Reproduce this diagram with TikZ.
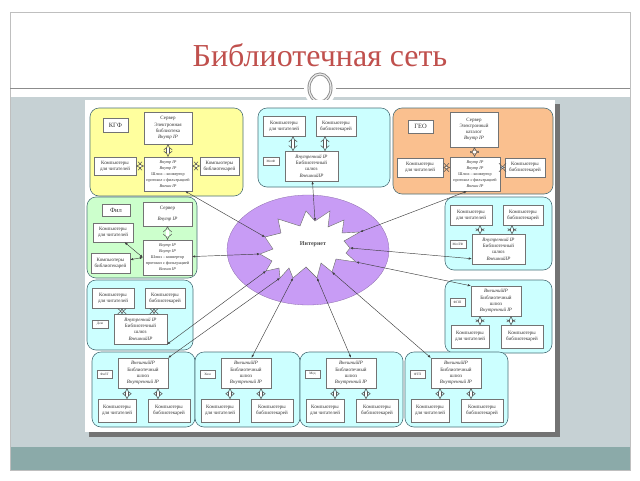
\documentclass[tikz,border=0pt]{standalone}
\usepackage{fontspec}
\setmainfont{Liberation Serif}
\usepackage{xcolor}
\definecolor{mauvang}{HTML}{FFFF9E}
\definecolor{maucam}{HTML}{FAC08F}
\definecolor{mauluc}{HTML}{CCFFCC}
\definecolor{maulam}{HTML}{CCFFFF}
\definecolor{mautim}{HTML}{C89CF5}
\definecolor{maubien}{HTML}{4B7079}
\definecolor{mautieude}{HTML}{C0504D}
\definecolor{maunen}{HTML}{C6D1D4}
\definecolor{mauday}{HTML}{8BAAA9}
\def\maydoc{Компьютеры\\для читателей}
\def\maythu{Компьютеры\\библиотекарей}
\usepackage{tikz}
\usetikzlibrary{arrows.meta,calc}

\begin{document}
\begin{tikzpicture}[x=1pt,y=-1pt]
		\tikzset{
			khoi/.style={draw=maubien,line width=0.6pt,rounded corners=9pt},
			hop/.style={draw=black!55,fill=white,line width=0.4pt,inner sep=0pt,align=center,
				font=\fontsize{5}{6.2}\selectfont,text=black!80},
			nhan/.style={hop,font=\fontsize{6.5}{7}\selectfont},
			nhannho/.style={hop,font=\fontsize{3.4}{4}\selectfont},
			mui/.style={draw=black!65,double=white,double distance=2.6pt,line width=0.55pt,
				arrows={Implies[length=2.6pt]-Implies[length=2.6pt]}},
			noi/.style={draw=black!75,line width=0.45pt,arrows={Latex[length=3pt,width=2.4pt]-Latex[length=3pt,width=2.4pt]}},
			pics/khoitren/.style n args={3}{code={
				\path[khoi,fill=maulam] (0,0) rectangle (#2,#3);
				\node[hop,minimum width=42pt,minimum height=20pt] (-rd) at (26,18) {\maydoc};
				\node[hop,minimum width=40pt,minimum height=20pt] (-tv) at (78,18) {\maythu};
				\node[hop,minimum width=53pt,minimum height=30pt] (-gw) at (53.5,#3-21) {\textit{Внутренний IP}\\Библиотечный\\шлюз\\\textit{ВнешнийIP}};
				\node[nhannho,minimum width=16pt,minimum height=8pt] (-tag) at (13,#3-26) {#1};
				\draw[mui] ([xshift=9pt]-rd.south) -- ++(0,#3-64);
				\draw[mui] ([xshift=-11pt]-tv.south) -- ++(0,#3-64);
			}},
			pics/khoiduoi/.style n args={3}{code={
				\path[khoi,fill=maulam] (0,0) rectangle (#2,#3);
				\node[hop,minimum width=50pt,minimum height=30pt] (-gw) at (51,21) {\textit{ВнешнийIP}\\Библиотечный\\шлюз\\\textit{Внутренний IP}};
				\node[nhannho,minimum width=15pt,minimum height=8pt] (-tag) at (12.5,22) {#1};
				\node[hop,minimum width=38pt,minimum height=23pt] (-rd) at (25,#3-16.5) {\maydoc};
				\node[hop,minimum width=42pt,minimum height=23pt] (-tv) at (77,#3-16.5) {\maythu};
				\draw[mui] ([xshift=-16pt]-gw.south) -- ++(0,#3-64);
				\draw[mui] ([xshift=15pt]-gw.south) -- ++(0,#3-64);
			}}
		}
		\useasboundingbox (0,0) rectangle (640,480);
		%%% Nen trang chieu
		\fill[white] (0,0) rectangle (640,480);
		\fill[maunen] (10,97) rectangle (630,447);
		\fill[mauday] (10,447) rectangle (630,470);
		\draw[black!25,line width=0.6pt] (10,12) rectangle (630,470);
		\draw[black!45,line width=0.6pt] (10,88) -- (630,88);
		\path[fill=white] (320,88) ellipse [x radius=16pt,y radius=19pt];
		\draw[black!45,double=black!8,double distance=1.2pt,line width=0.9pt] (320,88) ellipse [x radius=11pt,y radius=14pt];
		\node[anchor=base,font=\fontsize{32}{36}\selectfont,text=mautieude] (title) at (320,66) {Библиотечная сеть};
		%%% Bang so do
		\fill[black!55] (89,104) rectangle (560,437);
		\fill[white] (85,100) rectangle (555,432);
		%%% Khoi KGF
		\path[khoi,fill=mauvang] (90,108) rectangle (243,196);
		\node[nhan,minimum width=25pt,minimum height=14pt] (kgf-tag) at (115.5,125) {КГФ};
		\node[hop,minimum width=48pt,minimum height=32pt] (kgf-sv) at (168,128) {Сервер\\Электронная\\библиотека\\\textit{Внутр IP}};
		\node[hop,minimum width=48pt,minimum height=34pt,font=\fontsize{4.2}{6}\selectfont] (kgf-gw) at (168,174) {\textit{Внутр IP}\\\textit{Внутр IP}\\Шлюз – конвертор\\протокол с фильтрацией\\\textit{Внешн IP}};
		\node[hop,minimum width=42pt,minimum height=18pt] (kgf-rd) at (115,166) {\maydoc};
		\node[hop,minimum width=39pt,minimum height=18pt] (kgf-tv) at (219.5,166) {\maythu};
		\draw[mui] (kgf-sv) -- (kgf-gw);
		\draw[mui] (kgf-rd) -- (kgf-rd -| kgf-gw.west);
		\draw[mui] (kgf-tv) -- (kgf-tv -| kgf-gw.east);
		%%% Khoi GEO
		\path[khoi,fill=maucam] (393,108) rectangle (553,194);
		\node[nhan,minimum width=25pt,minimum height=13pt] (geo-tag) at (420.5,126.5) {ГЕО};
		\node[hop,minimum width=48pt,minimum height=35pt] (geo-sv) at (474,129.5) {Сервер\\Электронный\\каталог\\\textit{Внутр IP}};
		\node[hop,minimum width=50pt,minimum height=34pt,font=\fontsize{4.2}{6}\selectfont] (geo-gw) at (475,174) {\textit{Внутр IP}\\\textit{Внутр IP}\\Шлюз – конвертор\\протокол с фильтрацией\\\textit{Внешн IP}};
		\node[hop,minimum width=46pt,minimum height=19pt] (geo-rd) at (420,167.5) {\maydoc};
		\node[hop,minimum width=40pt,minimum height=19pt] (geo-tv) at (525,167.5) {\maythu};
		\draw[mui] (geo-sv) -- (geo-gw);
		\draw[mui] (geo-rd) -- (geo-rd -| geo-gw.west);
		\draw[mui] (geo-tv) -- (geo-tv -| geo-gw.east);
		%%% Khoi Fil
		\path[khoi,fill=mauluc] (87,197) rectangle (197,278);
		\node[nhan,minimum width=28pt,minimum height=12pt] (fil-tag) at (116,210) {Фил};
		\node[hop,minimum width=49pt,minimum height=24pt] (fil-sv) at (167.5,214) {Сервер\\[5pt]\textit{Внутр IP}};
		\node[hop,minimum width=49pt,minimum height=35pt,font=\fontsize{4.2}{6}\selectfont] (fil-gw) at (167.5,257.5) {\textit{Внутр IP}\\\textit{Внутр IP}\\Шлюз – конвертор\\протокол с фильтрацией\\\textit{Внешн IP}};
		\node[hop,minimum width=40pt,minimum height=19pt] (fil-rd) at (113,232.5) {\maydoc};
		\node[hop,minimum width=39pt,minimum height=20pt] (fil-tv) at (110.5,263) {\maythu};
		\draw[mui] (fil-sv) -- (fil-gw);
		\draw[noi] (fil-rd) -- (fil-gw.west);
		\draw[noi] (fil-tv) -- (fil-gw.west);
		%%% Cac khoi lam
		\path (258,108) pic (mehf) {khoitren={МехФ}{132}{79}};
		\path (445,197) pic (mehtf) {khoitren={МехТФ}{107}{73}};
		\path (87,280) pic (dem) {khoitren={Дем}{106}{70}};
		\path (445,280) pic (fpp) {khoiduoi={ФПП}{107}{73}};
		\path (92,352) pic (b1) {khoiduoi={ФиЗТ}{103}{75}};
		\path (195,352) pic (b2) {khoiduoi={Хим}{105}{75}};
		\path (300,352) pic (b3) {khoiduoi={Мед}{103}{75}};
		\path (405,352) pic (b4) {khoiduoi={ФТП}{103}{75}};
		%%% Internet
		\path[fill=mautim,draw=mautim!70!black,line width=0.3pt] (308,250) ellipse [x radius=81pt,y radius=55pt];
		\path[fill=white,draw=black!60,line width=0.4pt] (278,219) -- (300,226) -- (306,211) -- (315,221) coordinate (t-top)
			-- (330,211) -- (328,227) -- (344,220) -- (342,233) -- (360,232) coordinate (t-geo)
			-- (344,241) -- (350,248) coordinate (t-mehtf) -- (346,253) -- (356,262) coordinate (t-fpp)
			-- (336,259) -- (332,272) coordinate (t-b4) -- (321,263) -- (317,278) coordinate (t-b3)
			-- (306,267) -- (293,278) coordinate (t-b2) -- (289,268) -- (280,278) coordinate (t-b1)
			-- (279,268) -- (266,271) coordinate (t-dem) -- (272,261) -- (260,254) coordinate (t-fil)
			-- (273,249) -- (265,237) coordinate (t-kgf) -- (281,233) -- cycle;
		\node[font=\fontsize{6}{7}\selectfont\bfseries,text=black!70] (inet) at (313,244) {Интернет};
		%%% Duong noi
		\foreach \a/\b in {kgf-gw.-45/t-kgf,mehf-gw/t-top,geo-gw.-115/t-geo,fil-gw/t-fil,mehtf-gw.-160/t-mehtf,
			dem-gw.south east/t-dem,fpp-gw.north west/t-fpp,b1-gw.north east/t-b1,b2-gw.70/t-b2,b3-gw.north/t-b3,b4-gw.north west/t-b4}{%
			\draw[noi] (\a) -- (\b);
		}
\end{tikzpicture}
\end{document}
